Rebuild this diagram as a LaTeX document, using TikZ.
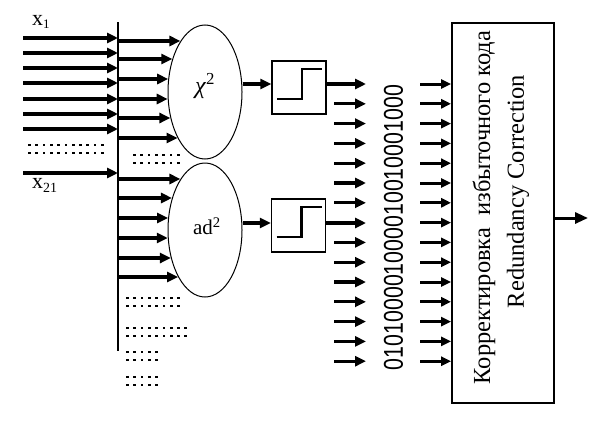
\documentclass[tikz,border=0pt]{standalone}
\usepackage{fontspec}
\setmainfont{Liberation Serif}
\newfontfamily\digitfont{Liberation Sans}
\usetikzlibrary{arrows.meta,shapes.geometric}
\newcommand\dotsrow[3]{\foreach \k in {1,...,#3}{\fill ({#1+(\k-1)*7.3},{#2-1.3}) rectangle ++(2.7,2.7);}}
\begin{document}
\begin{tikzpicture}[x=1pt,y=-1pt,
  arr/.style={line width=3.2pt,-{Triangle[length=11pt,width=10pt]}},
  arrb/.style={line width=3pt,-{Triangle[length=10pt,width=9pt]}},
  ell/.style={draw,ellipse,line width=1pt,minimum width=74pt,minimum height=134pt,inner sep=0pt},
  stepbox/.style={draw,line width=1.3pt,minimum width=54pt,minimum height=53pt,inner sep=0pt},
  lbl/.style={inner sep=0pt,anchor=base west,font=\fontsize{22}{22}\selectfont},
]
\useasboundingbox (0,0) rectangle (612,431);

% bus line
\coordinate (bt) at (118,22);
\coordinate (bb) at (118,351);
\draw[line width=2pt] (bt) -- (bb);

% inputs
\foreach \y [count=\i] in {38,53,68,83,99,114,129,173} {
  \coordinate (in\i) at (23,\y);
  \draw[arr] (in\i) -- (in\i -| bt);
}
\node[lbl] (x1) at (32,25) {x\raisebox{-3pt}{\fontsize{13}{13}\selectfont 1}};
\node[lbl] (x21) at (32,188) {x\raisebox{-4pt}{\fontsize{14}{14}\selectfont 21}};

% dots
\dotsrow{28}{145}{11}
\dotsrow{28}{153}{11}
\dotsrow{133}{155}{7}
\dotsrow{133}{163}{7}
\dotsrow{126}{298}{8}
\dotsrow{126}{306}{8}
\dotsrow{126}{328}{9}
\dotsrow{126}{336}{9}
\dotsrow{126}{352}{5}
\dotsrow{126}{360}{5}
\dotsrow{126}{377}{5}
\dotsrow{126}{385}{5}

% ellipses
\node[ell] (e1) at (205,92) {};
\node[ell] (e2) at (205,230) {};
\node[inner sep=0pt,font=\fontsize{24}{24}\selectfont] (chi) at (205,86) {\textit{χ}\textsuperscript{2}};
\node[inner sep=0pt,font=\fontsize{21}{21}\selectfont] (ad) at (207,226) {ad\textsuperscript{2}};

\foreach \y in {41,59,79,99,118,138} {
  \pgfmathsetmacro\xx{205-37.5*sqrt(1-((\y-92)/67.5)^2)}
  \coordinate (u\y) at (\xx,\y);
  \draw[arr] (u\y -| bt) -- (u\y);
}
\foreach \y in {179,198,218,238,258,277} {
  \pgfmathsetmacro\xx{205-37.5*sqrt(1-((\y-230)/67.5)^2)}
  \coordinate (v\y) at (\xx,\y);
  \draw[arr] (v\y -| bt) -- (v\y);
}

% step boxes
\node[stepbox] (s1) at (299,87.5) {};
\node[stepbox] (s2) at (298.5,225.5) {};
\foreach \s in {s1,s2} {
  \draw[line width=2.8pt] ([shift={(-22,11.5)}]\s.center) -- ++(25,0) -- ++(0,-30) -- ++(20,0);
}
\coordinate (h1) at (0,84);
\coordinate (h2) at (0,223);
\draw[arr] (e1.east |- h1) -- (s1.west |- h1);
\draw[arr] (e2.east |- h2) -- (s2.west |- h2);

% output columns
\node[draw,line width=1.8pt,minimum width=102pt,minimum height=380pt,inner sep=0pt] (big) at (503,213) {};
\foreach \i in {0,...,14} {
  \pgfmathsetmacro\yy{84+19.8*\i}
  \coordinate (c\i) at (366,\yy);
  \coordinate (d\i) at (420,\yy);
  \draw[arrb] (d\i) -- (d\i -| big.west);
}
\foreach \i in {1,...,6,8,9,...,14} {
  \draw[arr] (334,0 |- c\i) -- (c\i);
}
\coordinate (o1) at (366,84);
\coordinate (o2) at (366,223);
\draw[arr] (s1.east |- o1) -- (o1);
\draw[arr] (s2.east |- o2) -- (o2);

\node[rotate=90,inner sep=0pt] (bits) at (393.5,227.5) {\resizebox{285pt}{19pt}{\digitfont 010100001000010010001000}};

\node[rotate=90,inner sep=0pt,font=\fontsize{24.5}{24.5}\selectfont] (t1) at (484,207.5) {Корректировка\hspace{0.5em}избыточного кода};
\node[rotate=90,inner sep=0pt,font=\fontsize{24.5}{24.5}\selectfont] (t2) at (518,191.5) {Redundancy Correction};

\coordinate (out) at (588,218);
\draw[line width=3pt,-{Triangle[length=13pt,width=11pt]}] (out -| big.east) -- (out);
\end{tikzpicture}
\end{document}
